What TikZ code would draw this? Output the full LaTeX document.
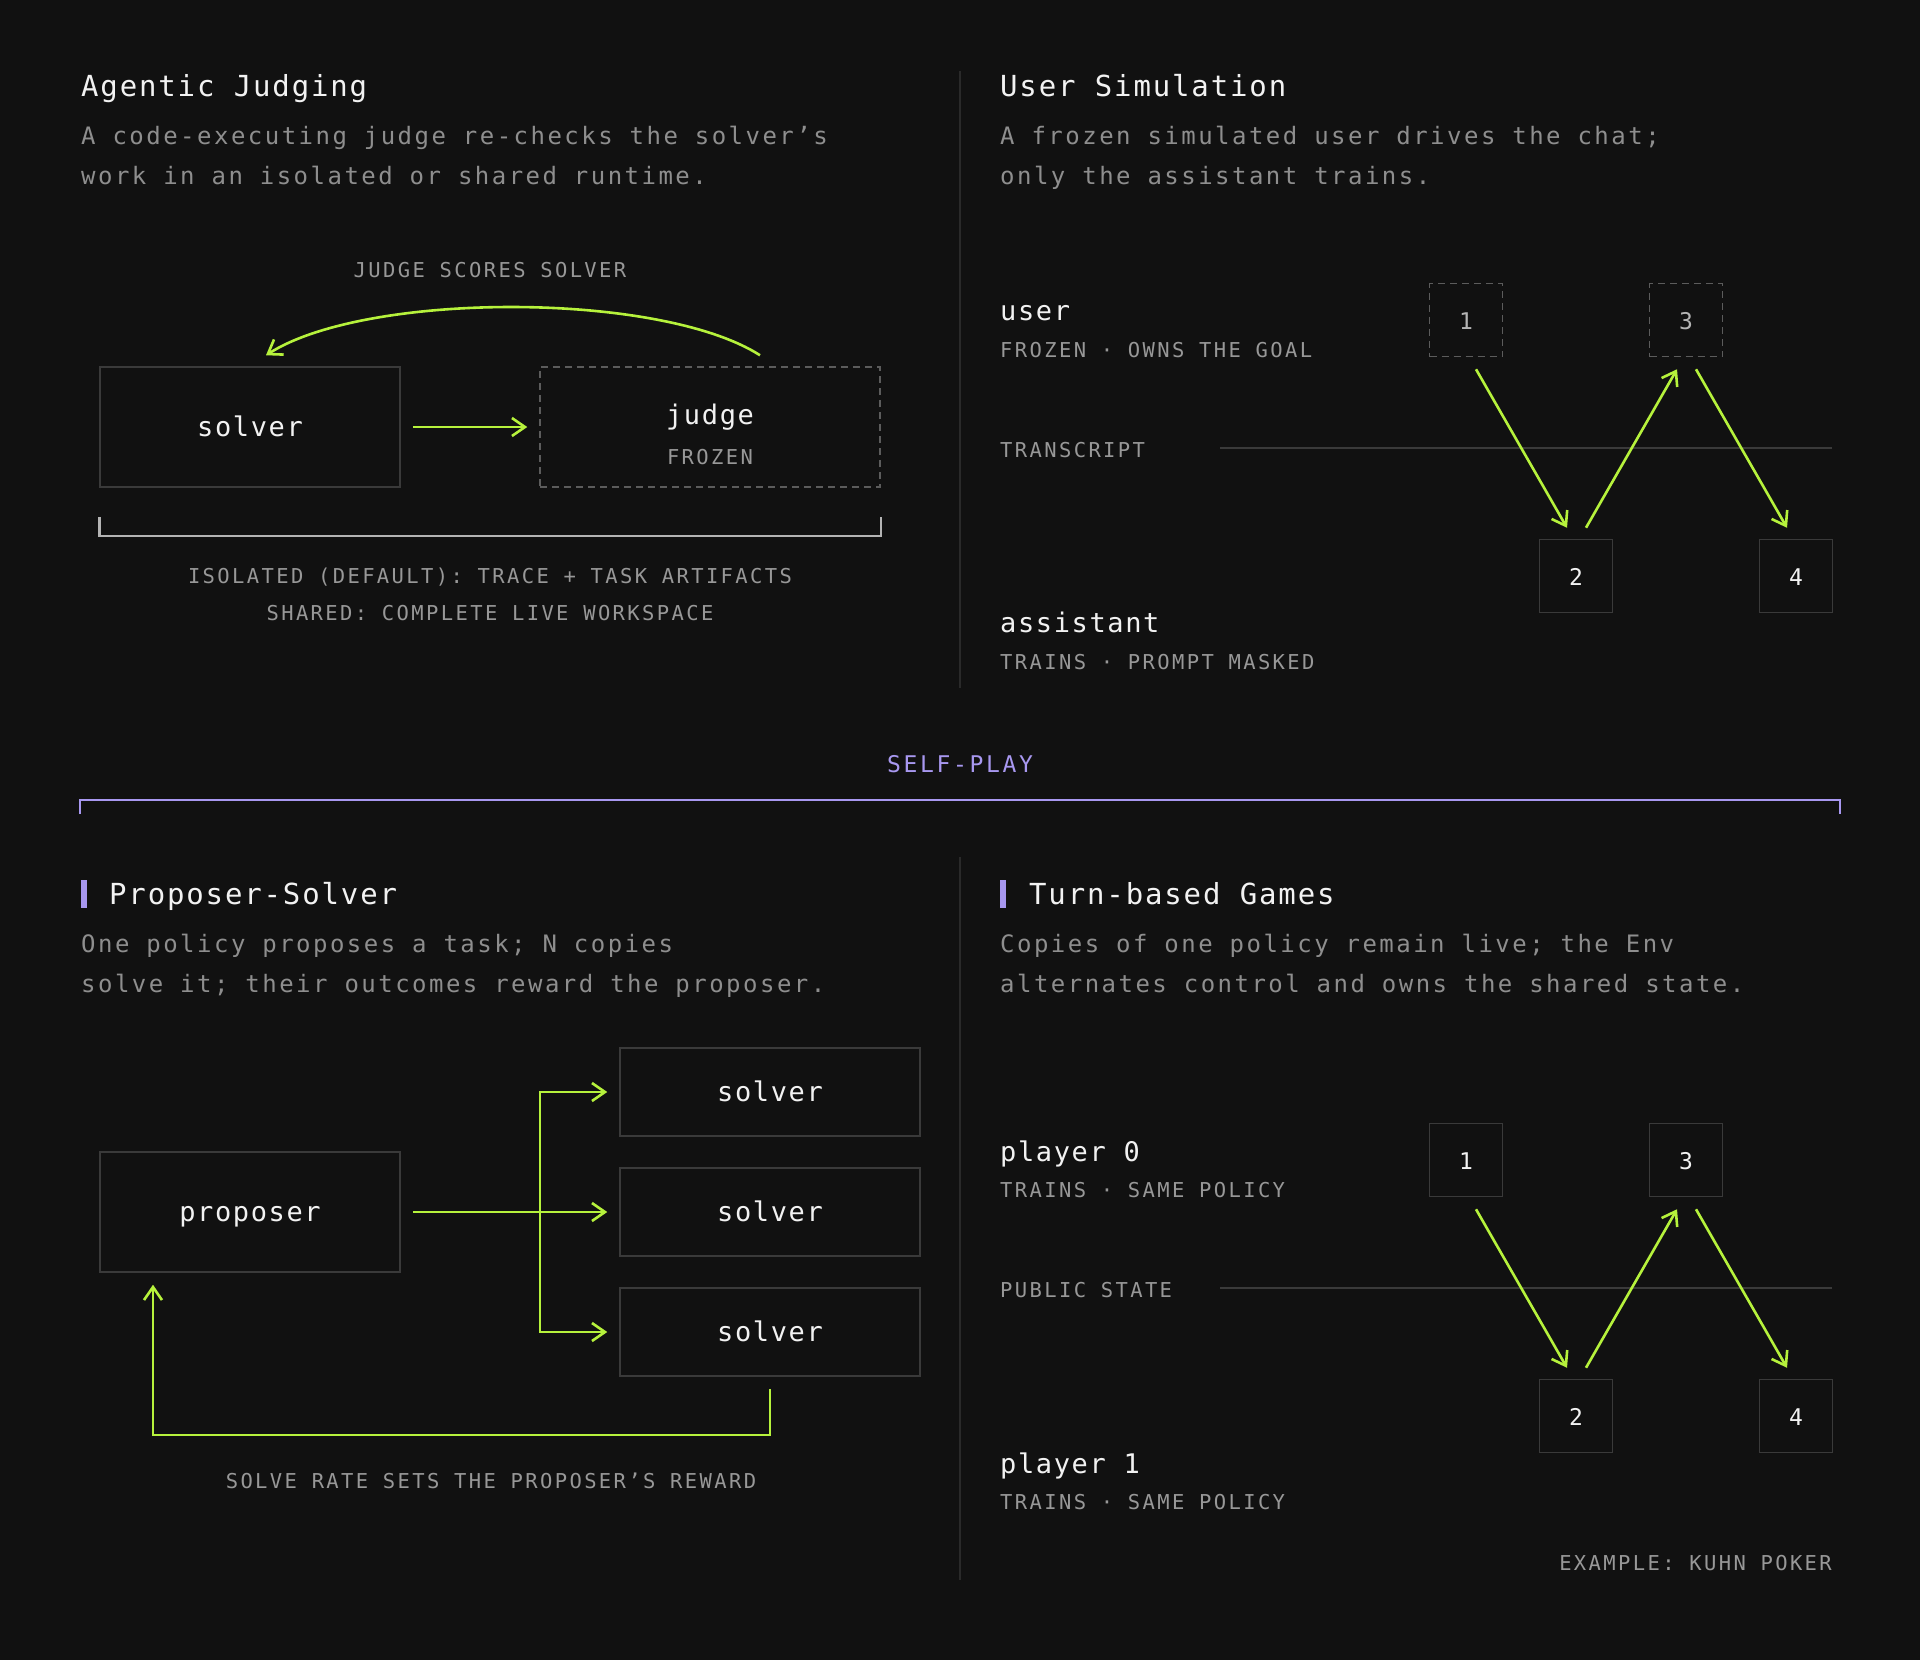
\documentclass[tikz,border=0pt]{standalone}
\usepackage{fontspec}
\usepackage{tikz}
\usetikzlibrary{arrows.meta, positioning, calc}
\setmainfont{DejaVu Sans Mono}
\newfontfamily\titlefont[LetterSpace=6.4]{DejaVu Sans Mono}
\newfontfamily\descfont[LetterSpace=10.3]{DejaVu Sans Mono}
\newfontfamily\rolefont[LetterSpace=6.0]{DejaVu Sans Mono}
\newfontfamily\capsfont[LetterSpace=11.6]{DejaVu Sans Mono}
\newfontfamily\numfont{DejaVu Sans Mono}
\definecolor{bgdark}{RGB}{17,17,17}
\definecolor{inkwhite}{RGB}{242,242,242}
\definecolor{descgray}{RGB}{142,142,142}
\definecolor{capsgray}{RGB}{152,152,152}
\definecolor{boxline}{RGB}{58,58,58}
\definecolor{dashline}{RGB}{92,92,92}
\definecolor{rulegray}{RGB}{42,42,42}
\definecolor{lime}{RGB}{182,242,60}
\definecolor{lavender}{RGB}{168,152,240}
\definecolor{brackgray}{RGB}{180,180,180}
\tikzset{>={Straight Barb[length=13pt,width=18pt]}}
\tikzset{
  heading/.style={anchor=base west, inner sep=0pt, text=inkwhite, font=\titlefont\fontsize{29}{29}\selectfont},
  blurb/.style={anchor=base west, inner sep=0pt, text=descgray, font=\descfont\fontsize{24}{24}\selectfont},
  roletext/.style={anchor=base west, inner sep=0pt, text=inkwhite, font=\rolefont\fontsize{27}{27}\selectfont},
  tag/.style={anchor=base west, inner sep=0pt, text=capsgray, font=\capsfont\fontsize{20.5}{20.5}\selectfont},
  box/.style={draw=boxline, line width=1.5pt, inner sep=0pt, text height=19pt, text depth=0pt, text=inkwhite, font=\rolefont\fontsize{27}{27}\selectfont},
  dashbox/.style={box, draw=dashline, dash pattern=on 7pt off 5pt},
  turnbox/.style={box, minimum width=73pt, minimum height=73pt, font=\numfont\fontsize{23}{23}\selectfont},
  flow/.style={->, draw=lime, line width=2.6pt},
  divider/.style={draw=rulegray, line width=1.5pt},
}

\begin{document}
\begin{tikzpicture}[x=1pt, y=-1pt]

	\fill[bgdark] (0,0) rectangle (1920,1660);
	\useasboundingbox (0,0) rectangle (1920,1660);

	\draw[divider] (960,71) -- (960,688);
	\draw[divider] (960,857) -- (960,1580);

	% agentic judging
	\node[heading] (ajTitle) at (81,96) {Agentic Judging};
	\node[blurb] (ajDesc1) at (81,144) {A code-executing judge re-checks the solver’s};
	\node[blurb] (ajDesc2) at (81,184) {work in an isolated or shared runtime.};
	\node[tag, anchor=base] (ajScore) at (490,277) {JUDGE SCORES SOLVER};

	\node[box, minimum width=300pt, minimum height=120pt] (ajSolver) at (250,427) {solver};
	\node[dashbox, minimum width=340pt, minimum height=120pt] (ajJudge) at (710,427) {};
	\node[roletext, anchor=base] (ajJudgeName) at (710,424) {judge};
	\node[tag, anchor=base] (ajFrozen) at (710,464) {FROZEN};

	\draw[flow, shorten <=12pt, shorten >=12pt] (ajSolver.east) -- (ajJudge.west);
	\draw[flow] ($(ajJudge.north)+(50,-11)$) .. controls +(-100,-64) and +(100,-64) .. ($(ajSolver.north)+(16,-11)$);

	\draw[brackgray, line width=2.5pt] ($(ajSolver.south west)+(0,29)$) -- ++(0,19) -| ($(ajJudge.south east)+(0,29)$);
	\node[tag, anchor=base] (ajIsolated) at (490,583) {ISOLATED (DEFAULT): TRACE + TASK ARTIFACTS};
	\node[tag, anchor=base] (ajShared) at (490,620) {SHARED: COMPLETE LIVE WORKSPACE};

	% user simulation
	\node[heading] (usTitle) at (1000,96) {User Simulation};
	\node[blurb] (usDesc1) at (1000,144) {A frozen simulated user drives the chat;};
	\node[blurb] (usDesc2) at (1000,184) {only the assistant trains.};

	\node[roletext] (usUser) at (1000,320) {user};
	\node[tag] (usUserTag) at (1000,357) {FROZEN · OWNS THE GOAL};
	\node[tag] (usTranscript) at (1000,457) {TRANSCRIPT};
	\node[roletext] (usAsst) at (1000,632) {assistant};
	\node[tag] (usAsstTag) at (1000,669) {TRAINS · PROMPT MASKED};

	\coordinate (usLineL) at (1220,448);
	\coordinate (usLineR) at (1832,448);
	\draw[divider, draw=boxline] (usLineL) -- (usLineR);

	\node[turnbox, dashbox, minimum width=73pt, minimum height=73pt, text=brackgray, font=\numfont\fontsize{23}{23}\selectfont] (us1) at (1466,320) {1};
	\node[turnbox, dashbox, minimum width=73pt, minimum height=73pt, text=brackgray, font=\numfont\fontsize{23}{23}\selectfont] (us3) at (1686,320) {3};
	\node[turnbox] (us2) at (1576,576) {2};
	\node[turnbox] (us4) at (1796,576) {4};

	\draw[flow] ($(us1.south)+(10,12)$) -- ($(us2.north)+(-9,-11)$);
	\draw[flow] ($(us2.north)+(10,-11)$) -- ($(us3.south)+(-9,12)$);
	\draw[flow] ($(us3.south)+(10,12)$) -- ($(us4.north)+(-9,-11)$);

	% self-play bracket
	\node[tag, anchor=base, text=lavender, font=\capsfont\fontsize{23}{23}\selectfont] (spLabel) at (960,772) {SELF-PLAY};
	\coordinate (spLeft) at (80,814);
	\coordinate (spRight) at (1840,814);
	\draw[lavender, line width=2.5pt] (spLeft) -- ++(0,-14) -| (spRight);

	% proposer-solver
	\fill[lavender] (81,880) rectangle (87,908);
	\node[heading] (psTitle) at (109,904) {Proposer-Solver};
	\node[blurb] (psDesc1) at (81,952) {One policy proposes a task; N copies};
	\node[blurb] (psDesc2) at (81,992) {solve it; their outcomes reward the proposer.};

	\node[box, minimum width=300pt, minimum height=120pt] (psProp) at (250,1212) {proposer};
	\node[box, minimum width=300pt, minimum height=88pt] (psSolverA) at (770,1092) {solver};
	\node[box, minimum width=300pt, minimum height=88pt] (psSolverB) at (770,1212) {solver};
	\node[box, minimum width=300pt, minimum height=88pt] (psSolverC) at (770,1332) {solver};

	\coordinate (psFork) at (540,1212);
	\coordinate (psLoop) at (153,1435);
	\draw[flow, shorten <=12pt, shorten >=12pt] (psProp.east) -- (psSolverB.west);
	\draw[flow, <->, shorten <=12pt, shorten >=12pt] (psSolverA.west) -| (psFork) |- (psSolverC.west);
	\draw[flow, shorten <=12pt, shorten >=12pt] (psSolverC.south) |- (psLoop) -- (psLoop |- psProp.south);
	\node[tag, anchor=base] (psReward) at (491,1488) {SOLVE RATE SETS THE PROPOSER’S REWARD};

	% turn-based games
	\fill[lavender] (1000,880) rectangle (1006,908);
	\node[heading] (tgTitle) at (1029,904) {Turn-based Games};
	\node[blurb] (tgDesc1) at (1000,952) {Copies of one policy remain live; the Env};
	\node[blurb] (tgDesc2) at (1000,992) {alternates control and owns the shared state.};

	\node[roletext] (tgP0) at (1000,1161) {player 0};
	\node[tag] (tgP0Tag) at (1000,1197) {TRAINS · SAME POLICY};
	\node[tag] (tgState) at (1000,1297) {PUBLIC STATE};
	\node[roletext] (tgP1) at (1000,1473) {player 1};
	\node[tag] (tgP1Tag) at (1000,1509) {TRAINS · SAME POLICY};

	\coordinate (tgLineL) at (1220,1288);
	\coordinate (tgLineR) at (1832,1288);
	\draw[divider, draw=boxline] (tgLineL) -- (tgLineR);

	\node[turnbox] (tg1) at (1466,1160) {1};
	\node[turnbox] (tg3) at (1686,1160) {3};
	\node[turnbox] (tg2) at (1576,1416) {2};
	\node[turnbox] (tg4) at (1796,1416) {4};

	\draw[flow] ($(tg1.south)+(10,12)$) -- ($(tg2.north)+(-9,-11)$);
	\draw[flow] ($(tg2.north)+(10,-11)$) -- ($(tg3.south)+(-9,12)$);
	\draw[flow] ($(tg3.south)+(10,12)$) -- ($(tg4.north)+(-9,-11)$);

	\node[tag, anchor=base east] (tgExample) at (1832,1570) {EXAMPLE: KUHN POKER};

\end{tikzpicture}
\end{document}
